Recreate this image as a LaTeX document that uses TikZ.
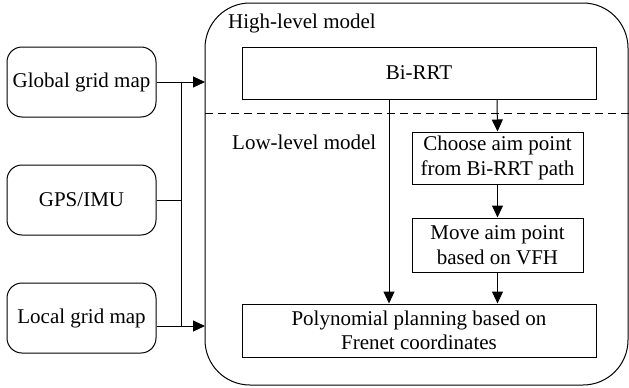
\documentclass[tikz,border=0pt]{standalone}
\usepackage{fontspec}
\setmainfont{Liberation Serif}
\usetikzlibrary{arrows.meta}
\begin{document}
\begin{tikzpicture}[x=1pt,y=-1pt,
  every node/.style={font=\fontsize{21}{24.5}\selectfont, inner sep=0pt, align=center},
  inbox/.style={draw, line width=1pt, rounded corners=15pt, minimum width=149pt, minimum height=70pt},
  pbox/.style={draw, line width=1pt},
  conn/.style={line width=1pt},
  arr/.style={conn, -{Triangle[length=12pt,width=11pt]}},
  lbl/.style={anchor=west}]
\useasboundingbox (0,0) rectangle (629,388);
% big model frame
\draw[line width=1pt, rounded corners=45pt] (205,3) rectangle (628,385);
\draw[line width=1pt, dashed, dash pattern=on 8pt off 5pt] (205,113) -- (629,113);
\node[lbl] (hl) at (228,23) {High-level model};
\node[lbl] (ll) at (232,142) {Low-level model};
% inputs
\node[inbox] (glob) at (81.5,82) {Global grid map};
\node[inbox] (gps) at (81.5,200) {GPS/IMU};
\node[inbox] (loc) at (81.5,318) {Local grid map};
% planning boxes
\node[pbox, minimum width=354pt, minimum height=52pt] (birrt) at (419,73) {Bi-RRT};
\node[pbox, minimum width=171pt, minimum height=52pt] (choose) at (497.5,158) {Choose aim point\\from Bi-RRT path};
\node[pbox, minimum width=171pt, minimum height=54pt] (move) at (497.5,245) {Move aim point\\based on VFH};
\node[pbox, minimum width=354pt, minimum height=53pt] (poly) at (419,330.5) {Polynomial planning based on\\Frenet coordinates};
% input connectors
\coordinate (jt) at (181,82);
\coordinate (jb) at (181,326);
\coordinate (inT) at (205,82);
\coordinate (inB) at (205,326);
\draw[arr] (glob.east) -- (inT);
\draw[conn] (gps.east) -- (gps.east -| jt);
\draw[conn] (jt) -- (jb);
\draw[arr] (loc.east |- jb) -- (inB);
% internal connectors
\draw[arr] (birrt.south -| 497,0) -- (choose.north);
\draw[arr] (choose.south) -- (move.north);
\draw[arr] (move.south) -- (poly.north -| move.south);
\draw[arr] (birrt.south -| 389,0) -- (poly.north -| 389,0);
\end{tikzpicture}
\end{document}
